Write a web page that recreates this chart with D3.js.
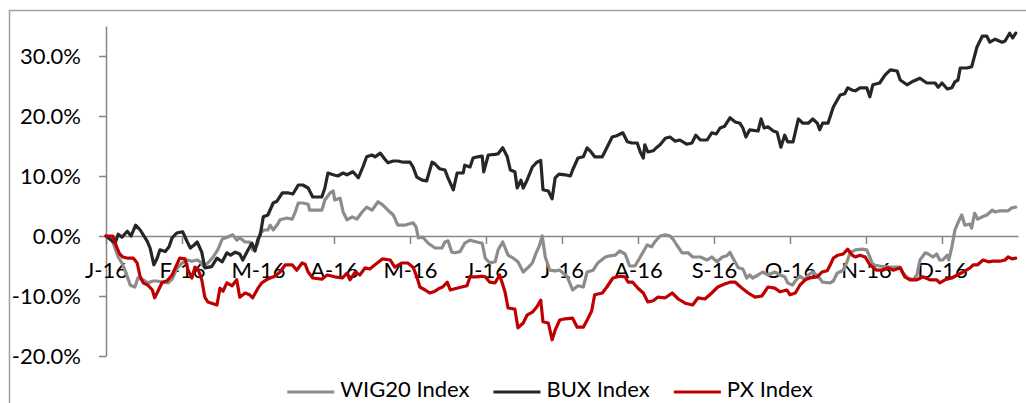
<!DOCTYPE html>
<html>
<head>
<meta charset="utf-8">
<script src="https://cdn.jsdelivr.net/npm/d3@7"></script>
<style>
  html, body { margin: 0; padding: 0; background: #fff; }
  #chart text { font-family: Lato, "Open Sans", sans-serif; fill: #000; }
</style>
</head>
<body>
<div id="chart"></div>
<script>
// months since 1 Jan 2016, cumulative return in %
const monthLabels = ["J-16","F-16","M-16","A-16","M-16","J-16","J-16","A-16","S-16","O-16","N-16","D-16"]
const yTicks = [-20, -10, 0, 10, 20, 30]
const seriesNames = ["WIG20 Index", "BUX Index", "PX Index"]
const seriesColors = ["#8c8c8c", "#262626", "#c00000"]

const wig = [[0,0],[0.05,-0.3],[0.09,-1.0],[0.16,-3.5],[0.21,-4.5],[0.25,-5.7],[0.32,-8.2],[0.38,-8.5],[0.42,-7.0],[0.49,-7.3],[0.55,-7.8],[0.62,-7.5],[0.67,-7.5],[0.75,-7.7],[0.82,-7.8],[0.87,-7.2],[0.93,-5.5],[1.00,-4.5],[1.07,-4.0],[1.13,-4.2],[1.20,-4.0],[1.24,-4.3],[1.28,-5.0],[1.34,-4.5],[1.41,-3.5],[1.47,-2.3],[1.53,-0.5],[1.58,-0.3],[1.63,0.0],[1.67,0.2],[1.72,-0.7],[1.76,-0.3],[1.83,-1.0],[1.89,-1.0],[1.93,-2.3],[1.99,-1.5],[2.03,0.5],[2.08,1.0],[2.13,1.0],[2.16,1.8],[2.20,1.0],[2.26,2.0],[2.29,2.7],[2.38,3.0],[2.45,2.8],[2.49,4.0],[2.53,5.5],[2.59,5.5],[2.66,5.3],[2.68,4.3],[2.79,4.3],[2.84,4.3],[2.88,6.0],[2.95,7.2],[2.99,7.5],[3.01,6.0],[3.08,6.3],[3.12,4.0],[3.17,2.7],[3.24,3.2],[3.30,2.8],[3.37,4.0],[3.43,4.8],[3.50,4.3],[3.58,5.7],[3.64,5.2],[3.71,4.3],[3.78,3.5],[3.84,1.8],[3.93,1.8],[4.04,2.2],[4.08,1.5],[4.11,-0.3],[4.17,-0.2],[4.24,-1.2],[4.33,-2.0],[4.42,-2.0],[4.46,-1.0],[4.50,-0.8],[4.55,-2.7],[4.59,-2.8],[4.66,-2.6],[4.72,-1.2],[4.79,-0.7],[4.88,-1.0],[4.95,-1.2],[4.99,-3.7],[5.05,-4.5],[5.12,-4.3],[5.16,-2.3],[5.22,-1.0],[5.29,-3.2],[5.36,-3.7],[5.42,-4.3],[5.49,-6.0],[5.55,-5.3],[5.61,-4.5],[5.66,-2.8],[5.70,-1.7],[5.74,0.0],[5.78,-3.5],[5.84,-5.7],[5.91,-5.8],[5.97,-5.7],[6.07,-6.8],[6.14,-9.0],[6.21,-8.3],[6.28,-8.5],[6.33,-6.0],[6.41,-5.7],[6.47,-4.5],[6.57,-3.5],[6.63,-3.3],[6.70,-3.2],[6.76,-2.5],[6.83,-3.0],[6.89,-5.0],[6.96,-5.0],[7.03,-3.5],[7.12,-1.5],[7.18,-1.8],[7.22,-1.0],[7.29,0.0],[7.36,0.2],[7.42,0.0],[7.46,-0.5],[7.51,-1.5],[7.58,-2.8],[7.66,-2.8],[7.72,-3.5],[7.82,-3.5],[7.91,-4.0],[7.97,-3.5],[8.04,-4.3],[8.11,-3.5],[8.17,-3.3],[8.21,-2.7],[8.25,-3.7],[8.32,-5.3],[8.38,-5.5],[8.43,-7.0],[8.47,-6.5],[8.51,-7.0],[8.58,-6.5],[8.64,-6.0],[8.71,-6.5],[8.80,-6.0],[8.87,-6.5],[8.93,-6.8],[8.97,-7.8],[9.03,-8.2],[9.07,-7.5],[9.13,-6.7],[9.20,-7.3],[9.24,-6.5],[9.30,-6.0],[9.37,-6.7],[9.43,-7.7],[9.53,-7.8],[9.57,-7.5],[9.62,-6.2],[9.70,-5.7],[9.75,-4.3],[9.79,-2.8],[9.86,-2.3],[9.95,-2.2],[10.01,-2.3],[10.05,-3.5],[10.09,-4.8],[10.18,-5.0],[10.29,-5.2],[10.36,-5.2],[10.45,-5.2],[10.49,-6.2],[10.55,-7.0],[10.62,-7.3],[10.67,-6.5],[10.71,-4.0],[10.78,-2.8],[10.82,-3.0],[10.88,-3.5],[10.93,-3.0],[10.97,-4.0],[11.01,-4.0],[11.07,-3.2],[11.09,-4.0],[11.13,-1.8],[11.17,1.0],[11.21,2.2],[11.26,3.5],[11.30,1.8],[11.37,2.0],[11.39,1.3],[11.43,3.8],[11.47,2.8],[11.53,3.2],[11.59,3.5],[11.66,4.3],[11.70,4.0],[11.76,4.2],[11.87,4.2],[11.92,4.7],[11.97,4.8]]

const bux = [[0,0],[0.05,-0.5],[0.12,-1.2],[0.16,0.3],[0.21,-0.2],[0.28,0.8],[0.33,0],[0.39,1.8],[0.45,1.0],[0.49,0.2],[0.54,-0.8],[0.58,-2.0],[0.63,-4.8],[0.67,-3.8],[0.71,-2.3],[0.78,-2.6],[0.83,-1.8],[0.87,-0.3],[0.93,0.5],[1.01,0.7],[1.07,-1.0],[1.11,-2.0],[1.16,-1.5],[1.20,-1.0],[1.26,-2.7],[1.30,-5.3],[1.39,-5.1],[1.46,-3.7],[1.53,-4.3],[1.59,-2.8],[1.64,-3.2],[1.70,-2.7],[1.76,-3.0],[1.80,-4.0],[1.87,-2.3],[1.92,-1.2],[1.96,-2.5],[2.00,-0.5],[2.03,0.2],[2.07,3.2],[2.13,3.5],[2.20,5.5],[2.25,5.8],[2.32,7.2],[2.39,7.2],[2.46,7.0],[2.53,8.5],[2.59,8.5],[2.66,8.0],[2.72,6.5],[2.84,6.5],[2.88,8.0],[2.92,10.5],[2.99,10.2],[3.05,10.0],[3.12,10.5],[3.17,10.2],[3.25,10.7],[3.32,9.7],[3.38,11.5],[3.43,13.2],[3.50,13.5],[3.54,13.2],[3.61,13.8],[3.67,12.8],[3.71,12.2],[3.78,12.5],[3.84,12.5],[3.91,12.3],[4.00,12.3],[4.04,11.5],[4.09,9.8],[4.16,9.3],[4.22,9.2],[4.29,12.3],[4.33,12.0],[4.39,11.2],[4.46,11.0],[4.50,9.7],[4.57,7.7],[4.62,10.5],[4.70,10.5],[4.72,11.8],[4.79,11.5],[4.83,13.0],[4.89,13.2],[4.95,13.3],[4.97,10.7],[5.03,13.5],[5.12,13.6],[5.16,13.7],[5.22,14.7],[5.28,13.2],[5.32,11.0],[5.38,10.7],[5.41,8.0],[5.46,9.3],[5.49,8.0],[5.54,9.3],[5.61,11.5],[5.67,12.3],[5.72,12.6],[5.75,7.7],[5.82,7.5],[5.87,6.2],[5.91,9.7],[5.96,10.3],[6.04,10.2],[6.11,10.0],[6.14,11.0],[6.21,13.0],[6.28,13.2],[6.33,14.7],[6.37,14.2],[6.43,13.2],[6.53,13.2],[6.59,14.7],[6.66,16.5],[6.72,16.7],[6.80,17.2],[6.86,15.7],[6.92,15.5],[6.99,15.5],[7.03,14.0],[7.07,13.0],[7.09,15.2],[7.13,14.0],[7.20,14.2],[7.25,14.8],[7.29,15.2],[7.36,16.3],[7.42,16.5],[7.49,15.8],[7.55,16.0],[7.64,15.3],[7.71,15.5],[7.76,16.8],[7.82,16.0],[7.91,16.0],[7.97,17.2],[8.03,17.0],[8.08,18.0],[8.14,18.3],[8.21,19.7],[8.28,19.0],[8.34,18.8],[8.38,18.0],[8.42,16.5],[8.47,17.7],[8.58,17.5],[8.62,19.5],[8.66,18.0],[8.71,18.2],[8.78,17.5],[8.83,17.3],[8.88,14.8],[8.93,16.8],[8.97,15.7],[9.04,15.7],[9.11,19.5],[9.17,18.8],[9.24,18.8],[9.30,19.5],[9.36,18.8],[9.39,17.7],[9.43,18.8],[9.50,18.8],[9.57,21.5],[9.66,23.5],[9.72,23.7],[9.76,24.7],[9.82,24.3],[9.86,24.2],[9.92,24.7],[10.01,24.7],[10.05,23.2],[10.09,25.2],[10.18,25.5],[10.25,26.8],[10.32,27.7],[10.41,27.5],[10.45,26.0],[10.54,25.2],[10.62,25.8],[10.71,26.3],[10.80,25.5],[10.91,25.5],[10.95,24.8],[11.00,25.5],[11.07,24.5],[11.13,24.7],[11.17,25.7],[11.21,26.0],[11.24,28.0],[11.33,28.0],[11.39,28.2],[11.46,31.5],[11.53,33.3],[11.59,33.3],[11.63,32.3],[11.70,32.8],[11.79,32.3],[11.83,32.5],[11.89,33.8],[11.93,33.0],[11.97,33.8]]

const px = [[0,0],[0.09,0],[0.14,-1.8],[0.18,-3.0],[0.22,-3.5],[0.29,-3.7],[0.36,-3.7],[0.41,-4.5],[0.45,-6.8],[0.49,-7.8],[0.55,-8.2],[0.61,-9.0],[0.64,-10.3],[0.68,-9.3],[0.74,-7.7],[0.80,-7.5],[0.87,-6.5],[0.93,-4.8],[0.97,-3.7],[1.04,-3.8],[1.08,-5.7],[1.13,-7.0],[1.17,-5.2],[1.21,-5.5],[1.26,-7.3],[1.30,-10.2],[1.34,-11.0],[1.41,-11.3],[1.46,-11.5],[1.50,-8.7],[1.54,-9.2],[1.59,-7.8],[1.66,-8.3],[1.72,-7.3],[1.76,-10.2],[1.83,-9.5],[1.89,-9.8],[1.93,-10.3],[2.00,-8.7],[2.05,-7.8],[2.11,-7.3],[2.16,-7.0],[2.22,-6.7],[2.29,-6.0],[2.36,-4.8],[2.45,-4.8],[2.51,-5.7],[2.58,-4.5],[2.62,-4.7],[2.66,-6.0],[2.72,-7.0],[2.84,-7.2],[2.91,-6.5],[3.01,-6.8],[3.11,-7.0],[3.17,-6.2],[3.21,-7.3],[3.28,-6.0],[3.34,-6.5],[3.41,-5.3],[3.47,-5.5],[3.54,-4.8],[3.64,-3.8],[3.74,-4.0],[3.80,-5.2],[3.89,-4.5],[3.97,-4.5],[4.04,-5.2],[4.09,-6.8],[4.13,-8.5],[4.20,-9.0],[4.26,-9.5],[4.33,-9.2],[4.39,-8.7],[4.43,-8.5],[4.49,-7.7],[4.53,-9.0],[4.59,-8.8],[4.68,-8.5],[4.75,-8.3],[4.79,-6.8],[4.88,-6.8],[4.95,-6.7],[4.99,-6.8],[5.05,-7.7],[5.12,-7.8],[5.18,-6.5],[5.25,-9.3],[5.29,-12.0],[5.38,-12.2],[5.42,-15.3],[5.49,-14.5],[5.54,-13.2],[5.61,-12.7],[5.67,-11.8],[5.72,-10.7],[5.75,-14.3],[5.82,-14.5],[5.87,-17.3],[5.91,-15.7],[5.97,-14.0],[6.04,-13.8],[6.14,-13.7],[6.20,-15.2],[6.28,-15.2],[6.34,-13.8],[6.39,-12.5],[6.43,-9.8],[6.53,-9.5],[6.59,-8.5],[6.67,-7.0],[6.76,-6.7],[6.83,-6.8],[6.87,-7.7],[6.93,-7.7],[7.00,-8.7],[7.07,-9.5],[7.13,-11.0],[7.20,-10.8],[7.26,-10.2],[7.36,-10.3],[7.45,-9.5],[7.53,-10.5],[7.62,-11.2],[7.72,-11.5],[7.79,-10.3],[7.88,-10.5],[7.97,-9.5],[8.05,-8.5],[8.14,-8.0],[8.21,-7.7],[8.28,-7.7],[8.37,-8.7],[8.45,-9.5],[8.54,-10.2],[8.63,-10.0],[8.71,-8.5],[8.80,-8.7],[8.87,-9.3],[8.96,-9.0],[9.00,-9.8],[9.07,-9.5],[9.13,-8.2],[9.20,-7.3],[9.26,-7.0],[9.36,-6.8],[9.42,-6.0],[9.49,-5.8],[9.53,-4.8],[9.57,-3.7],[9.63,-3.2],[9.70,-3.0],[9.76,-2.2],[9.82,-3.2],[9.86,-3.5],[9.92,-3.2],[9.99,-3.5],[10.05,-4.8],[10.14,-5.7],[10.22,-5.7],[10.29,-5.3],[10.36,-5.7],[10.45,-5.3],[10.51,-6.8],[10.58,-7.3],[10.67,-7.3],[10.75,-6.8],[10.84,-7.3],[10.93,-7.3],[10.97,-7.8],[11.04,-7.3],[11.13,-7.0],[11.20,-6.5],[11.28,-6.0],[11.37,-5.3],[11.41,-4.8],[11.47,-4.8],[11.54,-4.0],[11.61,-4.3],[11.67,-4.2],[11.76,-4.2],[11.83,-4.0],[11.87,-3.5],[11.92,-3.8],[11.97,-3.7]]

function draw() {

//------------------------ dimensions
    const dims = {
        width: 1026,
        height: 403,
        margin: { top: 26, right: 8, bottom: 47, left: 106 }
    }
    dims.boundedWidth = dims.width - dims.margin.left - dims.margin.right
    dims.boundedHeight = dims.height - dims.margin.top - dims.margin.bottom

//------------------------ wrapper
    const wrapper = d3.select("#chart")
        .append("svg")
        .attr("width", dims.width)
        .attr("height", dims.height)

    // chart area frame
    wrapper.append("rect")
        .attr("x", 9.5)
        .attr("y", 10.5)
        .attr("width", 1100)
        .attr("height", 600)
        .attr("fill", "none")
        .attr("stroke", "#a0a0a0")
        .attr("stroke-width", 1.5)

    const bounds = wrapper.append("g")
        .attr("transform", `translate(${dims.margin.left},${dims.margin.top})`)

//------------------------ scales
    const xScale = d3.scaleLinear()
        .domain([0, 12])
        .range([0, dims.boundedWidth])

    const yScale = d3.scaleLinear()
        .domain([-20, 35])
        .range([dims.boundedHeight, 0])

//------------------------ axes
    const yAxisGenerator = d3.axisLeft(yScale)
        .tickValues(yTicks)
        .tickFormat(d => d.toFixed(1) + "%")
        .tickSize(7)
        .tickSizeOuter(0)
        .tickPadding(18)

    const yAxis = bounds.append("g")
        .call(yAxisGenerator)

    const xAxisGenerator = d3.axisBottom(xScale)
        .tickValues(d3.range(0, 12))
        .tickFormat(d => monthLabels[d])
        .tickSize(8)
        .tickSizeOuter(0)
        .tickPadding(18)

    const xAxis = bounds.append("g")
        .attr("transform", `translate(0,${yScale(0)})`)
        .call(xAxisGenerator)

    bounds.selectAll(".domain, .tick line")
        .attr("stroke", "#868686")
        .attr("stroke-width", 1.5)
    bounds.selectAll(".tick text")
        .attr("font-size", 22)
        .attr("font-family", null)

//------------------------ lines
    const lineGenerator = d3.line()
        .x(d => xScale(d[0]))
        .y(d => yScale(d[1]))

    const series = [wig, bux, px]

    bounds.append("g")
        .selectAll("path")
        .data(series)
        .join("path")
        .attr("d", lineGenerator)
        .attr("fill", "none")
        .attr("stroke", (d, i) => seriesColors[i])
        .attr("stroke-width", 3.2)
        .attr("stroke-linejoin", "round")
        .attr("stroke-linecap", "round")

//------------------------ legend
    const legend = wrapper.append("g")
        .attr("transform", "translate(0,390)")

    const items = legend.selectAll("g")
        .data(seriesNames)
        .join("g")

    items.append("line")
        .attr("x1", 0)
        .attr("x2", 47)
        .attr("y1", 2)
        .attr("y2", 2)
        .attr("stroke", (d, i) => seriesColors[i])
        .attr("stroke-width", 3.2)

    items.append("text")
        .attr("x", 53)
        .attr("dy", "0.3em")
        .attr("font-size", 22)
        .text(d => d)

    // lay the items out side by side and center them
    const gap = 24
    let widths = items.nodes().map(n => n.getBBox().width)
    let total = d3.sum(widths) + gap * (widths.length - 1)
    let cursor = 550 - total / 2
    items.attr("transform", (d, i) => {
        const t = `translate(${cursor},0)`
        cursor += widths[i] + gap
        return t
    })
}
draw()
</script>
</body>
</html>
